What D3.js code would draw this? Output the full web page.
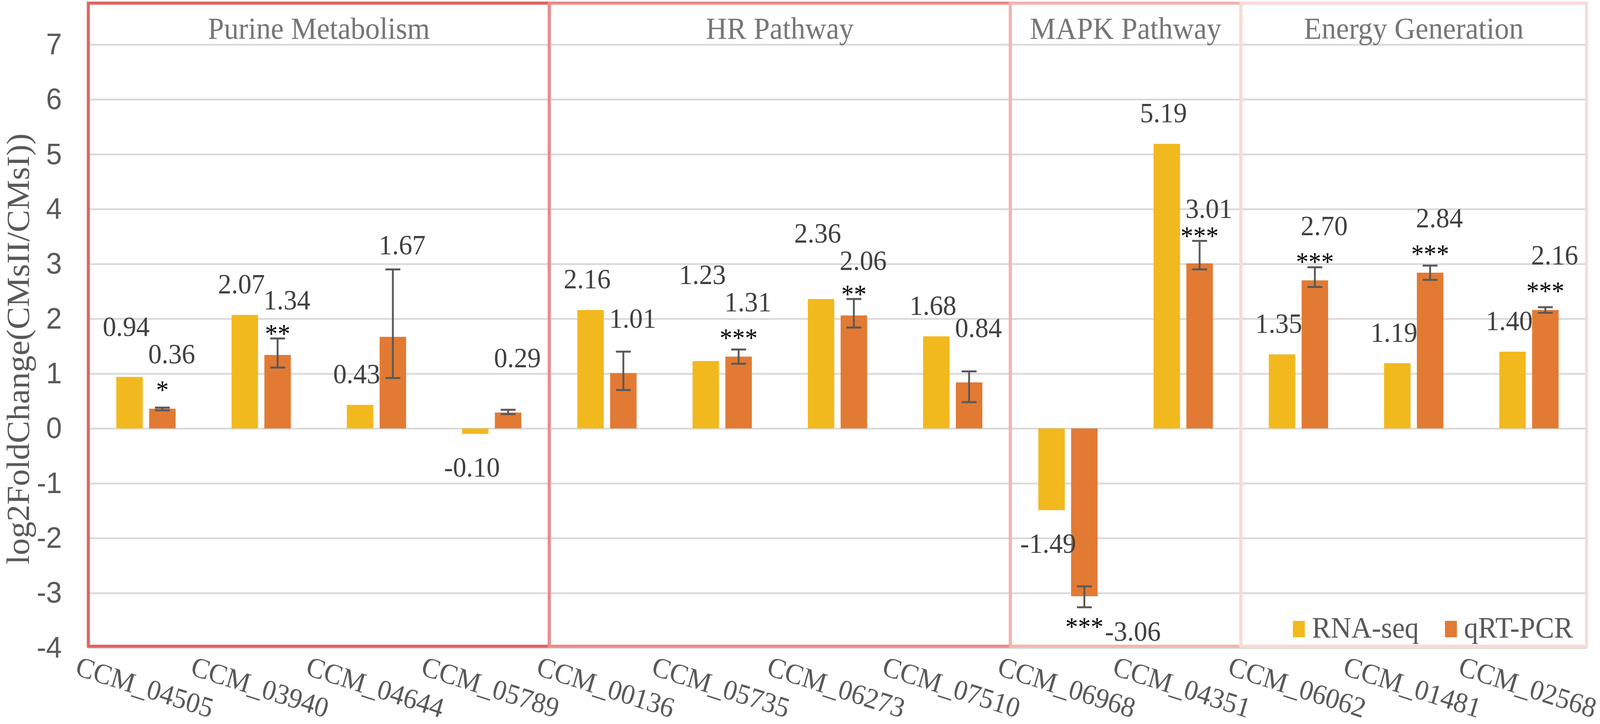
<!DOCTYPE html>
<html>
<head>
  <meta charset="utf-8">
  <title>log2FoldChange RNA-seq vs qRT-PCR</title>
  <style>
    html, body { margin: 0; padding: 0; background: #fff; overflow: hidden; width: 100%; height: 100%; }
    #chart { width: 100vw; height: 100vh; }
    svg { display: block; width: 100%; height: 100%; font-family: "Liberation Serif", "Times New Roman", serif; }
    .grid line { stroke: #d9d9d9; stroke-width: 4.5px; }
    .grid path { display: none; }
    .yaxis path { display: none; }
    .yaxis text { font-size: 76px; fill: #595959; }
    .cat { font-size: 73px; fill: #595959; }
    .val { font-size: 72px; fill: #404040; }
    .stars { font-size: 68px; fill: #000; }
    .gtitle { font-size: 78px; fill: #767676; }
    .legend text { font-size: 76px; fill: #595959; }
  </style>
</head>
<body>
  <div id="chart"></div>

  <script src="https://d3js.org/d3.v7.min.js"></script>
  <script>
    // ---- data ----
    const categories = ["CCM_04505", "CCM_03940", "CCM_04644", "CCM_05789",
                        "CCM_00136", "CCM_05735", "CCM_06273", "CCM_07510",
                        "CCM_06968", "CCM_04351", "CCM_06062", "CCM_01481", "CCM_02568"];
    const seriesNames = ["RNA-seq", "qRT-PCR"];
    const rnaSeq = [0.94, 2.07, 0.43, -0.10, 2.16, 1.23, 2.36, 1.68, -1.49, 5.19, 1.35, 1.19, 1.40];
    const qrtPcr = [0.36, 1.34, 1.67, 0.29, 1.01, 1.31, 2.06, 0.84, -3.06, 3.01, 2.70, 2.84, 2.16];
    // qRT-PCR error bars (upper / lower part)
    const errUp   = [0.02, 0.30, 1.23, 0.05, 0.39, 0.13, 0.30, 0.20, 0.18, 0.41, 0.24, 0.13, 0.05];
    const errDown = [0.03, 0.23, 0.75, 0.03, 0.31, 0.13, 0.22, 0.36, 0.20, 0.11, 0.12, 0.13, 0.05];
    const signif  = ["*", "**", "", "", "", "***", "**", "", "***", "***", "***", "***", "***"];
    const groupNames = ["Purine Metabolism", "HR Pathway", "MAPK Pathway", "Energy Generation"];
    const groupSizes = [4, 4, 2, 3];
    const yTicks = [-4, -3, -2, -1, 0, 1, 2, 3, 4, 5, 6, 7];

    // ---- layout ----
    const W = 4293, H = 1853;
    const plotLeft = 237, plotRight = 4257;
    const seriesColors = ["#f2b91e", "#e27a33"];
    const groupColors = ["#e06464", "#e88c8a", "#f1b6b1", "#f8dbd6"];
    // plain hyphen for negatives, like the original
    const locale = d3.formatLocale({decimal: ".", thousands: ",", grouping: [3], currency: ["", ""], minus: "-"});
    const fmt = locale.format(".2f");

    const svg = d3.select("#chart").append("svg")
      .attr("viewBox", `0 0 ${W} ${H}`)
      .attr("preserveAspectRatio", "none");

    svg.append("rect").attr("width", W).attr("height", H).attr("fill", "#fff");

    const y = d3.scaleLinear().domain([-4, 7]).range([1658, 114]);
    const x = d3.scaleBand().domain(categories).range([plotLeft, plotRight]);
    const xs = d3.scaleBand().domain(seriesNames).range([0, x.bandwidth()])
      .paddingInner(0.193).paddingOuter(0.853);

    // gridlines
    svg.append("g")
      .attr("class", "grid")
      .attr("transform", `translate(${plotLeft},0)`)
      .call(d3.axisLeft(y).tickValues(yTicks).tickSize(-(plotRight - plotLeft)).tickFormat(""));

    // y tick labels
    svg.append("g")
      .attr("class", "yaxis")
      .attr("transform", `translate(${plotLeft},0)`)
      .call(d3.axisLeft(y).tickValues(yTicks).tickSize(0).tickPadding(71).tickFormat(locale.format("d")));

    // y title
    svg.append("text")
      .attr("transform", "translate(78,893) rotate(-90)")
      .attr("text-anchor", "middle")
      .style("font-size", "86px")
      .style("fill", "#595959")
      .text("log2FoldChange(CMsII/CMsI))");

    // group boxes
    let start = 0;
    const groups = groupNames.map((name, i) => {
      const g = {name, i, x0: x(categories[start]), x1: x(categories[start + groupSizes[i] - 1]) + x.step()};
      start += groupSizes[i];
      return g;
    });

    svg.selectAll("rect.gbox").data(groups).join("rect")
      .attr("class", "gbox")
      .attr("x", d => d.x0)
      .attr("y", 8)
      .attr("width", d => d.x1 - d.x0)
      .attr("height", y(-4) - 4 - 8)
      .attr("fill", "none")
      .attr("stroke", d => groupColors[d.i])
      .attr("stroke-width", 8);

    svg.selectAll("text.gtitle").data(groups).join("text")
      .attr("class", "gtitle")
      .attr("x", d => (d.x0 + d.x1) / 2)
      .attr("y", 99)
      .attr("text-anchor", "middle")
      .text(d => d.name);

    // bars
    const rows = categories.map((c, i) => ({
      cat: c, i, rna: rnaSeq[i], qrt: qrtPcr[i], up: errUp[i], down: errDown[i], sig: signif[i]
    }));

    const barX = (d, s) => x(d.cat) + xs(seriesNames[s]);
    const bw = xs.bandwidth();

    [0, 1].forEach(s => {
      const key = s === 0 ? "rna" : "qrt";
      svg.append("g").selectAll("rect").data(rows).join("rect")
        .attr("x", d => barX(d, s))
        .attr("y", d => y(Math.max(0, d[key])))
        .attr("width", bw)
        .attr("height", d => Math.abs(y(d[key]) - y(0)))
        .attr("fill", seriesColors[s]);
    });

    // error bars on qRT-PCR
    const eg = svg.append("g").attr("stroke", "#595959").attr("stroke-width", 5);
    rows.forEach(d => {
      const cx = barX(d, 1) + bw / 2;
      const yt = y(d.qrt + d.up), yb = y(d.qrt - d.down);
      eg.append("line").attr("x1", cx).attr("x2", cx).attr("y1", yt).attr("y2", yb);
      eg.append("line").attr("x1", cx - 20).attr("x2", cx + 20).attr("y1", yt).attr("y2", yt);
      eg.append("line").attr("x1", cx - 20).attr("x2", cx + 20).attr("y1", yb).attr("y2", yb);
    });

    // rough ink box of a centred text line
    function inkBox(sel, cx, base, top, bottom) {
      const w = sel.node().getComputedTextLength();
      return {x0: cx - w / 2, x1: cx + w / 2, y0: base - top, y1: base - bottom};
    }
    function collide(a, b, minV) {
      const h = Math.min(a.x1, b.x1) - Math.max(a.x0, b.x0);
      const v = Math.min(a.y1, b.y1) - Math.max(a.y0, b.y0);
      return h > 0 && v > minV;
    }

    // labels
    const lg = svg.append("g");
    rows.forEach(d => {
      const cRna = barX(d, 0) + bw / 2;
      const cQrt = barX(d, 1) + bw / 2;
      let qBox = null, sBox = null, qBase = null;

      if (d.qrt >= 0) {
        const barTop = y(d.qrt), errTop = y(d.qrt + d.up);
        if (d.sig) {
          const starBottom = Math.min(barTop - 46, errTop - 10);
          const st = lg.append("text").attr("class", "stars")
            .attr("x", cQrt).attr("y", starBottom + 20)
            .attr("text-anchor", "middle").text(d.sig);
          sBox = inkBox(st, cQrt, starBottom + 20, 50, 15);
          qBase = Math.min(barTop - 116, starBottom - 46);
        } else {
          qBase = Math.min(barTop - 116, errTop - 38);
        }
        const qt = lg.append("text").attr("class", "val")
          .attr("x", cQrt + 25).attr("y", qBase)
          .attr("text-anchor", "middle").text(fmt(d.qrt));
        qBox = inkBox(qt, cQrt + 25, qBase, 50, 0);
      } else {
        const errBot = y(d.qrt - d.down);
        const st = lg.append("text").attr("class", "stars")
          .attr("x", cQrt).attr("y", errBot + 72)
          .attr("text-anchor", "middle").text(d.sig);
        const sw = st.node().getComputedTextLength();
        lg.append("text").attr("class", "val")
          .attr("x", cQrt + sw / 2 + 4).attr("y", errBot + 86)
          .attr("text-anchor", "start").text(fmt(d.qrt));
      }

      if (d.rna >= 0) {
        const base = y(d.rna) - 55;
        const t = lg.append("text").attr("class", "val")
          .attr("x", cRna - 9).attr("y", base)
          .attr("text-anchor", "middle").text(fmt(d.rna));
        if (qBox) {
          // lift above the qRT-PCR label when it would run into it or its stars
          const a = inkBox(t, cRna - 9, base, 50, 0);
          if (collide(a, qBox, 20) || (sBox && collide(a, sBox, 0))) {
            t.attr("y", qBase - 70);
          }
        }
      } else {
        lg.append("text").attr("class", "val")
          .attr("x", cRna - 9).attr("y", y(d.rna) + 109)
          .attr("text-anchor", "middle").text(fmt(d.rna));
      }
    });

    // category labels
    svg.append("g").selectAll("text").data(categories).join("text")
      .attr("class", "cat")
      .attr("transform", d => `translate(${x(d) + x.bandwidth() / 2 - 3},1758) rotate(17)`)
      .attr("text-anchor", "middle")
      .attr("dominant-baseline", "central")
      .text(d => d);

    // legend
    const legend = svg.append("g").attr("class", "legend");
    let lx = 3469;
    seriesNames.forEach((name, s) => {
      legend.append("rect").attr("x", lx).attr("y", 1589).attr("width", 32).attr("height", 42)
        .attr("fill", seriesColors[s]);
      const t = legend.append("text").attr("x", lx + 51).attr("y", 1632).text(name);
      lx += 51 + t.node().getComputedTextLength() + 70;
    });
  </script>
</body>
</html>
